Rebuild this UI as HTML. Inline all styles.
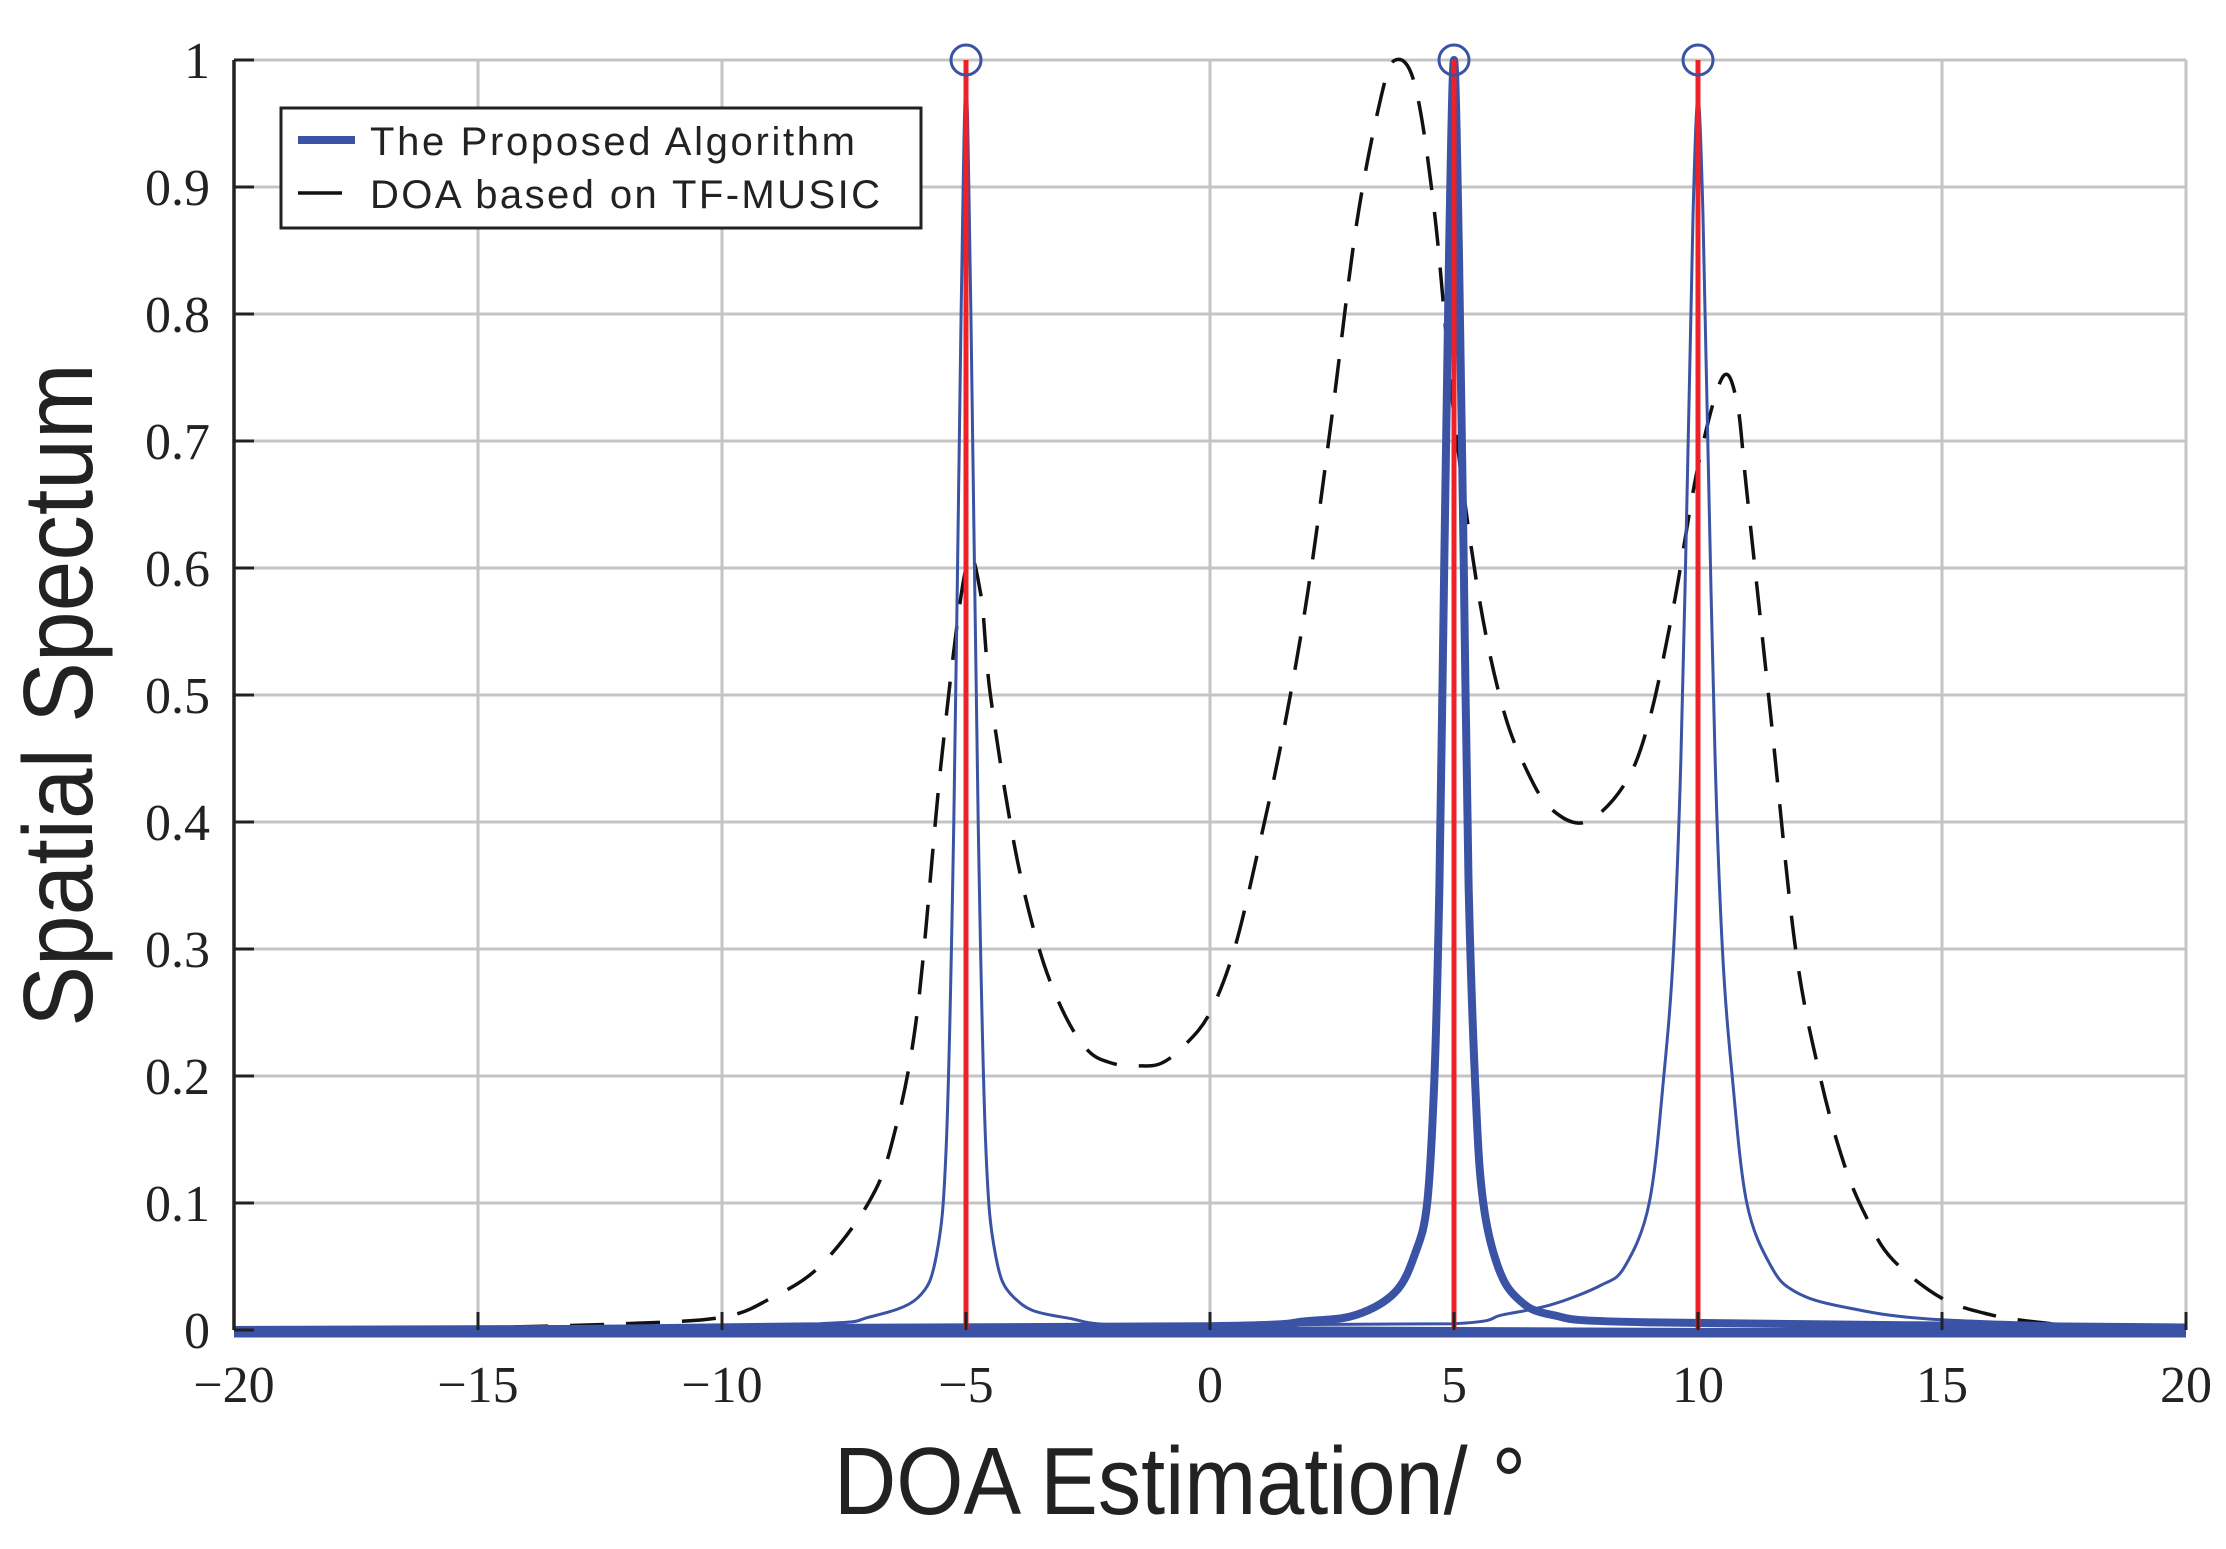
<!DOCTYPE html>
<html><head><meta charset="utf-8"><style>
body{margin:0;background:#fff;}
svg text{fill:#222;}
.tk{font-family:"Liberation Serif",serif;font-size:52px;}
</style></head><body>
<svg id="chart" width="2226" height="1544" xmlns="http://www.w3.org/2000/svg">
<g id="grid"></g>
<g id="series"></g>
<g id="axes"></g>
<text transform="translate(92,695) rotate(-90) scale(0.93,1)" text-anchor="middle" font-family="Liberation Sans, sans-serif" font-size="98">Spatial Spectum</text>
<text transform="translate(1180,1514) scale(0.9,1)" text-anchor="middle" font-family="Liberation Sans, sans-serif" font-size="96">DOA Estimation/ °</text>
<g>
<rect x="281" y="108" width="640" height="120" fill="#fff" stroke="#222" stroke-width="3"/>
<line x1="298" y1="140" x2="355" y2="140" stroke="#3a53a4" stroke-width="8"/>
<text x="370" y="155" font-family="Liberation Sans, sans-serif" font-size="40" textLength="485">The Proposed Algorithm</text>
<line x1="298" y1="193" x2="342" y2="193" stroke="#111" stroke-width="3.5"/>
<text x="370" y="208" font-family="Liberation Sans, sans-serif" font-size="40" textLength="510">DOA based on TF-MUSIC</text>
</g>
</svg>
<script>
const xTicks=[-20,-15,-10,-5,0,5,10,15,20];
const yTicks=[0,0.1,0.2,0.3,0.4,0.5,0.6,0.7,0.8,0.9,1];
const yTickLabels=["0","0.1","0.2","0.3","0.4","0.5","0.6","0.7","0.8","0.9","1"];
const musicX=[-20,-15,-12,-10,-9,-8,-7,-6.5,-6,-5.5,-5,-4.7,-4.5,-4,-3.5,-3,-2.5,-2,-1.5,-1,-0.5,0,0.5,1,1.5,2,2.5,3,3.5,3.8,4.2,4.6,5,5.5,6,6.5,7,7.7,8.5,9,9.5,10,10.5,10.8,11,11.5,12,12.5,13,13.5,14,15,16,17,18,20];
const musicY=[0,0.002,0.005,0.01,0.025,0.05,0.1,0.15,0.25,0.45,0.6,0.58,0.5,0.38,0.3,0.25,0.22,0.21,0.208,0.21,0.225,0.25,0.3,0.38,0.47,0.58,0.72,0.87,0.97,1.0,0.98,0.88,0.72,0.58,0.49,0.44,0.41,0.40,0.43,0.48,0.57,0.68,0.75,0.73,0.66,0.48,0.3,0.2,0.13,0.085,0.055,0.025,0.012,0.006,0.003,0.001];
const peakAX=[-20,-8,-7,-6,-5.6,-5.4,-5.25,-5.1,-5,-4.9,-4.75,-4.6,-4.4,-4,-3,0,20];
const peakAY=[0,0.005,0.01,0.025,0.06,0.15,0.4,0.8,0.98,0.8,0.4,0.15,0.06,0.025,0.01,0.002,0];
const peakBX=[-20,0,2,3,3.8,4.2,4.45,4.6,4.7,4.8,4.9,5,5.1,5.2,5.3,5.45,5.6,5.9,6.3,7,9,20];
const peakBY=[0,0.003,0.007,0.012,0.03,0.06,0.1,0.2,0.35,0.6,0.85,1.0,0.85,0.6,0.35,0.18,0.1,0.05,0.025,0.012,0.006,0.002];
const peakCX=[-20,5,6,7,8,8.5,9,9.3,9.5,9.65,9.8,9.9,10,10.1,10.2,10.35,10.5,10.7,11,11.5,12,13,15,20];
const peakCY=[0,0.005,0.012,0.02,0.035,0.05,0.1,0.2,0.3,0.45,0.7,0.88,0.97,0.88,0.7,0.45,0.3,0.2,0.1,0.05,0.03,0.018,0.008,0.002];
const trueDoa=[-5,5,10];
const trueAmp=[1,1,1];

const L=234,R=2186,T=60,B=1330;
const sx=v=>L+(v+20)/40*(R-L);
const sy=v=>B-v*(B-T);
const NS="http://www.w3.org/2000/svg";
function mk(tag,attrs,parent){const e=document.createElementNS(NS,tag);for(const k in attrs)e.setAttribute(k,attrs[k]);parent.appendChild(e);return e;}
const grid=document.getElementById('grid'),series=document.getElementById('series'),axes=document.getElementById('axes');
xTicks.forEach(t=>{
  const g=mk('line',{x1:sx(t),x2:sx(t),y1:T,y2:B,stroke:'#c4c4c4','stroke-width':3},grid);
  
  
  const tk=mk('line',{x1:sx(t),x2:sx(t),y1:B,y2:B-18,stroke:'#222','stroke-width':3},axes);
  
  
  const tx=mk('text',{x:sx(t),y:1402,'text-anchor':'middle','class':'tk'},axes);
  tx.textContent=(t<0?'\u2212':'')+Math.abs(t);
  
  
});
yTicks.forEach((t,i)=>{
  const g=mk('line',{x1:L,x2:R,y1:sy(t),y2:sy(t),stroke:'#c4c4c4','stroke-width':3},grid);
  
  
  const tk=mk('line',{x1:L,x2:L+20,y1:sy(t),y2:sy(t),stroke:'#222','stroke-width':3},axes);
  
  
  const tx=mk('text',{x:210,y:sy(t)+18,'text-anchor':'end','class':'tk'},axes);
  tx.textContent=yTickLabels[i];
  
  
});
const ax=mk('line',{x1:L,x2:L,y1:T,y2:B,stroke:'#222','stroke-width':3.5},axes);


function smooth(xs,ys){
  const p=xs.map((x,i)=>[sx(x),sy(ys[i])]);
  let d='M'+p[0][0].toFixed(1)+','+p[0][1].toFixed(1);
  for(let i=0;i<p.length-1;i++){
    const p0=p[i-1]||p[i],p1=p[i],p2=p[i+1],p3=p[i+2]||p2;
    let c1x=p1[0]+(p2[0]-p0[0])/6,c1y=p1[1]+(p2[1]-p0[1])/6;
    let c2x=p2[0]-(p3[0]-p1[0])/6,c2y=p2[1]-(p3[1]-p1[1])/6;
    c1x=Math.min(Math.max(c1x,p1[0]),p2[0]);c2x=Math.min(Math.max(c2x,p1[0]),p2[0]);
    c1y=Math.min(c1y,B);c2y=Math.min(c2y,B);
    d+=' C'+c1x.toFixed(1)+','+c1y.toFixed(1)+' '+c2x.toFixed(1)+','+c2y.toFixed(1)+' '+p2[0].toFixed(1)+','+p2[1].toFixed(1);
  }
  return d;
}
const base=mk('line',{x1:L,x2:R,y1:B+3,y2:B+3,stroke:'#3a53a4','stroke-width':9},series);


const m=mk('path',{d:smooth(musicX,musicY),fill:'none',stroke:'#111','stroke-width':3.5,'stroke-dasharray':'34 22'},series);


const pa=mk('path',{d:smooth(peakAX,peakAY),fill:'none',stroke:'#3a53a4','stroke-width':3},series);


const pc=mk('path',{d:smooth(peakCX,peakCY),fill:'none',stroke:'#3a53a4','stroke-width':3},series);


const pb=mk('path',{d:smooth(peakBX,peakBY),fill:'none',stroke:'#3a53a4','stroke-width':8},series);


trueDoa.forEach((d,i)=>{
  const s=mk('line',{x1:sx(d),x2:sx(d),y1:B,y2:sy(trueAmp[i]),stroke:'#ee2028','stroke-width':5},series);
  
  
  const c=mk('circle',{cx:sx(d),cy:sy(trueAmp[i]),r:15,fill:'none',stroke:'#3a53a4','stroke-width':3},series);
  
  
});
</script>
</body></html>
